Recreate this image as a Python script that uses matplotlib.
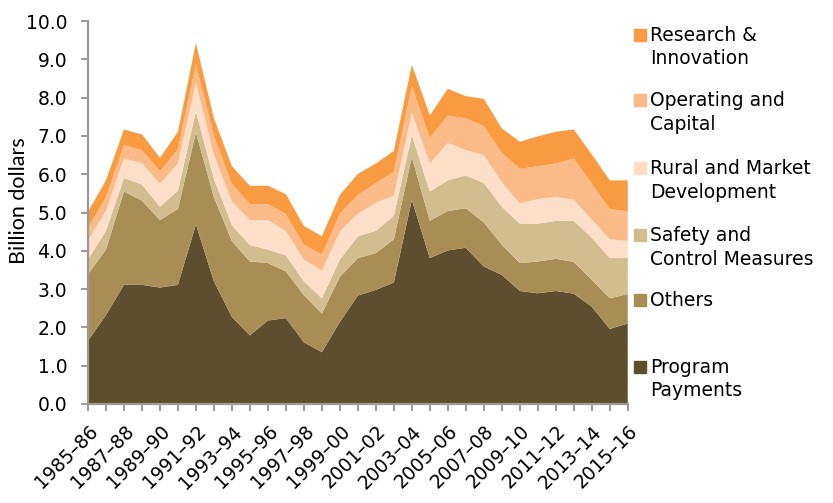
import numpy as np
import matplotlib
matplotlib.use("Agg")
import matplotlib.pyplot as plt
from matplotlib.patches import Rectangle

# fiscal years 1985-86 .. 2015-16
years = [f"{y}\u2013{str(y + 1)[-2:]}" for y in range(1985, 2016)]

# billion dollars
program_payments = [1.65, 2.32, 3.11, 3.11, 3.04, 3.11, 4.69, 3.20, 2.27, 1.79,
                    2.18, 2.24, 1.61, 1.35, 2.14, 2.83, 2.98, 3.17, 5.33, 3.81,
                    4.01, 4.08, 3.59, 3.37, 2.95, 2.89, 2.95, 2.88, 2.54, 1.96, 2.10]
others = [1.74, 1.71, 2.44, 2.20, 1.76, 1.98, 2.40, 2.20, 1.98, 1.93,
          1.50, 1.22, 1.23, 1.01, 1.18, 0.98, 0.96, 1.13, 1.12, 0.97,
          1.03, 1.03, 1.15, 0.79, 0.73, 0.83, 0.84, 0.83, 0.70, 0.80, 0.77]
safety = [0.38, 0.49, 0.35, 0.42, 0.35, 0.48, 0.55, 0.48, 0.42, 0.43,
          0.35, 0.42, 0.36, 0.40, 0.45, 0.57, 0.58, 0.61, 0.57, 0.77,
          0.80, 0.86, 1.03, 0.99, 1.03, 0.99, 0.99, 1.07, 1.10, 1.05, 0.94]
rural = [0.50, 0.52, 0.51, 0.56, 0.60, 0.71, 0.75, 0.62, 0.62, 0.65,
         0.77, 0.64, 0.57, 0.72, 0.74, 0.59, 0.74, 0.53, 0.58, 0.73,
         0.98, 0.66, 0.73, 0.64, 0.53, 0.64, 0.63, 0.55, 0.48, 0.49, 0.45]
operating = [0.33, 0.36, 0.35, 0.34, 0.33, 0.37, 0.48, 0.50, 0.46, 0.42,
             0.42, 0.44, 0.39, 0.42, 0.46, 0.49, 0.51, 0.62, 0.70, 0.67,
             0.71, 0.83, 0.76, 0.77, 0.90, 0.86, 0.87, 1.08, 0.93, 0.79, 0.77]
research = [0.42, 0.44, 0.41, 0.41, 0.35, 0.46, 0.56, 0.46, 0.46, 0.48,
            0.48, 0.52, 0.49, 0.48, 0.49, 0.55, 0.51, 0.55, 0.56, 0.59,
            0.70, 0.58, 0.71, 0.64, 0.71, 0.78, 0.83, 0.76, 0.77, 0.75, 0.81]

series = [program_payments, others, safety, rural, operating, research]
labels = ["Program\nPayments", "Others", "Safety and\nControl Measures",
          "Rural and Market\nDevelopment", "Operating and\nCapital",
          "Research &\nInnovation"]
colors = ["#5d4f2e", "#a78e55", "#d2bd8f", "#fddec6", "#fabb88", "#f99b40"]

fig = plt.figure(figsize=(8.33, 5.03), dpi=100)
ax = fig.add_axes([0.1056, 0.197, 0.648, 0.761])

x = np.arange(len(years))
ax.stackplot(x, *series, colors=colors, linewidth=0)

ax.set_xlim(0, len(years) - 1)
ax.set_ylim(0, 10)
ax.set_yticks(np.arange(0, 10.1, 1.0))
ax.set_yticklabels([f"{v:.1f}" for v in np.arange(0, 10.1, 1.0)], fontsize=13.5)
ax.set_xticks(x)
ax.set_xticklabels([y if i % 2 == 0 else "" for i, y in enumerate(years)],
                   rotation=45, ha="right", rotation_mode="anchor", fontsize=13.5)

for side in ["top", "right"]:
    ax.spines[side].set_visible(False)
for side in ["left", "bottom"]:
    ax.spines[side].set_color("#9a9a9a")
    ax.spines[side].set_linewidth(1.6)
ax.tick_params(axis="both", colors="#9a9a9a", length=5, width=1.4, labelcolor="black")
ax.tick_params(axis="y", pad=10)
ax.tick_params(axis="x", pad=8)

ax.set_ylabel("Billion dollars", fontsize=15.5, family="Lato")
ax.yaxis.set_label_coords(-0.109, 0.53)

# legend drawn as in the spreadsheet: top-aligned two-line entries
leg_y = [367, 300, 235, 168, 100, 35]
for lab, col, yy in zip(labels, colors, leg_y):
    fy = 1 - yy / 503
    fig.patches.append(Rectangle((634 / 833, fy - 6 / 503), 12 / 833, 12 / 503,
                                 color=col, transform=fig.transFigure))
    fig.text(650 / 833, fy + 9 / 503, lab, fontsize=13.5, va="top", ha="left",
             linespacing=1.3)

plt.savefig("out.png", dpi=100)
